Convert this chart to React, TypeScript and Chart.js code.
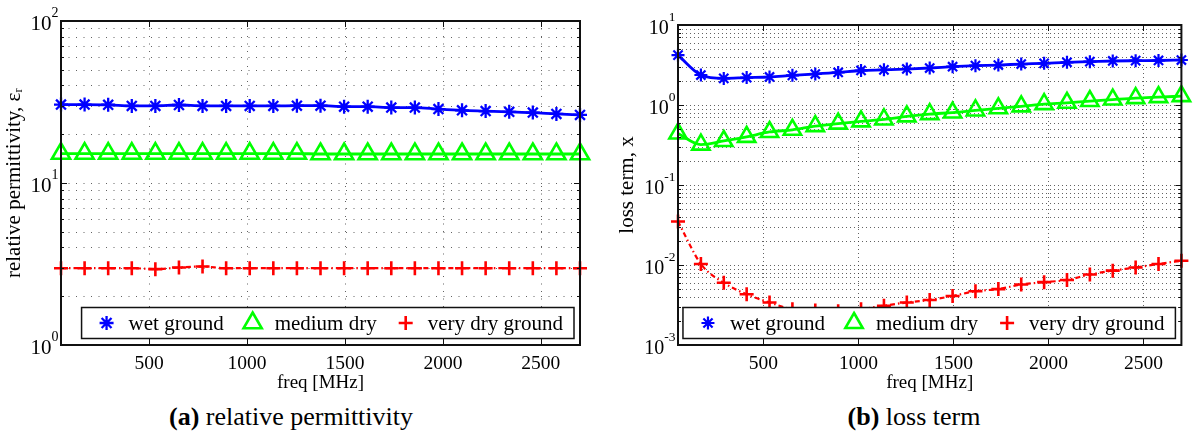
import React, { useEffect, useRef } from "react";
import { Chart, registerables } from "chart.js";

Chart.register(...registerables);

const FONT = '"Liberation Serif", "Times New Roman", serif';
const TEXT = "#000000";
const GRID_COLOR = "rgba(60,60,60,0.8)";
const BLUE = "#0000ff";
const GREEN = "#00ff00";
const RED = "#ff0000";

// ---- data ----
const freqMHz = [
  50, 170.5, 290.9, 411.4, 531.8, 652.3, 772.7, 893.2, 1013.6, 1134.1, 1254.5, 1375,
  1495.5, 1615.9, 1736.4, 1856.8, 1977.3, 2097.7, 2218.2, 2338.6, 2459.1, 2579.5, 2700,
];
const xTickValues = [500, 1000, 1500, 2000, 2500];

const permWet = [
  30.5, 30.5, 30.4, 29.9, 29.9, 30.3, 29.9, 29.9, 29.9, 29.9, 30.0, 30.0,
  29.6, 29.6, 29.2, 29.2, 28.6, 28.1, 27.8, 27.5, 27.2, 26.7, 26.3,
];
const permMedium = [
  15.2, 15.2, 15.2, 15.2, 15.2, 15.2, 15.2, 15.2, 15.2, 15.2, 15.2, 15.1,
  15.1, 15.1, 15.1, 15.1, 15.1, 15.1, 15.1, 15.1, 15.1, 15.1, 15.1,
];
const permVeryDry = [
  2.98, 2.98, 2.98, 2.98, 2.94, 3.01, 3.05, 2.98, 2.98, 2.98, 2.98, 2.98,
  2.98, 2.98, 2.98, 2.98, 2.98, 2.98, 2.98, 2.98, 2.98, 2.98, 2.98,
];

const lossWet = [
  4.2, 2.37, 2.15, 2.2, 2.24, 2.35, 2.44, 2.55, 2.7, 2.75, 2.82, 2.9,
  3.01, 3.1, 3.16, 3.25, 3.32, 3.42, 3.48, 3.55, 3.58, 3.6, 3.65,
];
const lossMedium = [
  0.44, 0.32, 0.355, 0.4, 0.46, 0.49, 0.545, 0.585, 0.625, 0.66, 0.72, 0.77,
  0.805, 0.855, 0.91, 0.96, 1.025, 1.065, 1.12, 1.17, 1.22, 1.255, 1.29,
];
const lossVeryDry = [
  0.035, 0.0103, 0.006, 0.0043, 0.0034, 0.0028, 0.0027, 0.00265, 0.0028, 0.0031, 0.0034, 0.00365,
  0.0041, 0.0047, 0.005, 0.0057, 0.0061, 0.0065, 0.0076, 0.0085, 0.0093, 0.0103, 0.0113,
];

const seriesLabels = ["wet ground", "medium dry", "very dry ground"];
const permDecades = [0, 1, 2];
const lossDecades = [-3, -2, -1, 0, 1];

type MarkerStyle = "star" | "triangle" | "cross";

type PanelSpec = {
  key: string;
  yTitle: string;
  decades: number[];
  series: number[][];
  canvasLeft: number;
  axisWidth: number;
  top: number;
  rightPad: number;
  yTitlePad: number;
  gridDash: number[];
  labelFont: number;
  expFont: number;
  markerR: number[];
  markerLW: number[];
};

function logTicks(decades: number[]) {
  const out: number[] = [];
  for (let i = 0; i < decades.length - 1; i++) {
    const base = Math.pow(10, decades[i]);
    for (let m = 1; m <= 9; m++) out.push(parseFloat((m * base).toPrecision(6)));
  }
  out.push(Math.pow(10, decades[decades.length - 1]));
  return out;
}

function drawMarker(
  ctx: CanvasRenderingContext2D,
  style: MarkerStyle,
  x: number,
  y: number,
  r: number,
  color: string,
  lw: number
) {
  ctx.save();
  ctx.strokeStyle = color;
  ctx.lineWidth = lw;
  ctx.setLineDash([]);
  ctx.beginPath();
  if (style === "star") {
    const d = r * Math.SQRT1_2;
    ctx.moveTo(x - r, y);
    ctx.lineTo(x + r, y);
    ctx.moveTo(x, y - r);
    ctx.lineTo(x, y + r);
    ctx.moveTo(x - d, y - d);
    ctx.lineTo(x + d, y + d);
    ctx.moveTo(x + d, y - d);
    ctx.lineTo(x - d, y + d);
  } else if (style === "triangle") {
    ctx.moveTo(x, y - r);
    ctx.lineTo(x + r * 0.866, y + r / 2);
    ctx.lineTo(x - r * 0.866, y + r / 2);
    ctx.closePath();
  } else {
    ctx.moveTo(x - r, y);
    ctx.lineTo(x + r, y);
    ctx.moveTo(x, y - r);
    ctx.lineTo(x, y + r);
  }
  ctx.stroke();
  ctx.restore();
}

const styles: MarkerStyle[] = ["star", "triangle", "cross"];
const colors = [BLUE, GREEN, RED];

function makeFramePlugin(p: PanelSpec) {
  return {
    id: "frame_" + p.key,
    beforeDatasetsDraw(chart: any) {
      const { ctx, chartArea: a, scales } = chart;
      const xs = scales.x;
      const ys = scales.y;
      ctx.save();
      ctx.strokeStyle = GRID_COLOR;
      ctx.lineWidth = 1;
      ctx.setLineDash(p.gridDash);
      for (const t of ys.ticks) {
        const py = Math.round(ys.getPixelForValue(t.value)) + 0.5;
        if (py <= a.top + 1 || py >= a.bottom - 1) continue;
        ctx.beginPath();
        ctx.moveTo(a.left, py);
        ctx.lineTo(a.right, py);
        ctx.stroke();
      }
      for (const t of xs.ticks) {
        const px = Math.round(xs.getPixelForValue(t.value)) + 0.5;
        ctx.beginPath();
        ctx.moveTo(px, a.top);
        ctx.lineTo(px, a.bottom);
        ctx.stroke();
      }
      ctx.restore();
    },
    afterDatasetsDraw(chart: any) {
      const { ctx, chartArea: a, scales } = chart;
      const xs = scales.x;
      const ys = scales.y;
      ctx.save();
      ctx.setLineDash([]);
      ctx.strokeStyle = "#111";
      ctx.lineWidth = 1;
      // inner ticks
      ctx.beginPath();
      for (const t of ys.ticks) {
        const py = Math.round(ys.getPixelForValue(t.value)) + 0.5;
        const lg = Math.log10(t.value);
        const major = Math.abs(lg - Math.round(lg)) < 1e-6;
        const len = major ? 6 : 3;
        ctx.moveTo(a.left, py);
        ctx.lineTo(a.left + len, py);
        ctx.moveTo(a.right, py);
        ctx.lineTo(a.right - len, py);
      }
      for (const t of xs.ticks) {
        const px = Math.round(xs.getPixelForValue(t.value)) + 0.5;
        ctx.moveTo(px, a.bottom);
        ctx.lineTo(px, a.bottom - 6);
        ctx.moveTo(px, a.top);
        ctx.lineTo(px, a.top + 6);
      }
      ctx.stroke();
      // box
      ctx.lineWidth = 2;
      ctx.strokeStyle = "#111";
      ctx.strokeRect(a.left, a.top, a.right - a.left, a.bottom - a.top);

      // y tick labels 10^n
      ctx.fillStyle = TEXT;
      ctx.textBaseline = "alphabetic";
      ctx.textAlign = "left";
      for (const e of p.decades) {
        const py = ys.getPixelForValue(Math.pow(10, e));
        const expText = e < 0 ? "-" + String(-e) : String(e);
        ctx.font = `${p.labelFont}px ${FONT}`;
        const w1 = ctx.measureText("10").width;
        ctx.font = `${p.expFont}px ${FONT}`;
        const w2 = ctx.measureText(expText).width;
        const x0 = a.left - 2.5 - w1 - w2;
        ctx.font = `${p.labelFont}px ${FONT}`;
        ctx.fillText("10", x0, py + 8.5);
        ctx.font = `${p.expFont}px ${FONT}`;
        ctx.fillText(expText, x0 + w1, py - 4.5);
      }

      // legend
      ctx.font = `21px ${FONT}`;
      const widths = seriesLabels.map((l) => ctx.measureText(l).width);
      const padL = 25;
      const mToT = 22;
      const gap = 29;
      const padR = 11;
      let total = padL + padR;
      widths.forEach((w, i) => {
        total += mToT + w + (i < widths.length - 1 ? gap : 0);
      });
      const h = 31;
      const right = a.right - 6;
      const bottom = a.bottom - 6.5;
      const left = right - total;
      const top = bottom - h;
      ctx.fillStyle = "#ffffff";
      ctx.fillRect(left, top, total, h);
      ctx.lineWidth = 1.5;
      ctx.strokeStyle = "#111";
      ctx.strokeRect(left, top, total, h);
      const cy = top + h / 2;
      let cx = left + padL;
      seriesLabels.forEach((l, i) => {
        drawMarker(ctx, styles[i], cx, cy, p.markerR[i], colors[i], p.markerLW[i]);
        ctx.fillStyle = TEXT;
        ctx.textBaseline = "middle";
        ctx.textAlign = "left";
        ctx.font = `21px ${FONT}`;
        ctx.fillText(l, cx + mToT, cy + 1);
        cx += mToT + widths[i] + gap;
      });
      ctx.restore();
    },
  };
}

function makeConfig(p: PanelSpec): any {
  const yTicks = logTicks(p.decades);
  const datasets = p.series.map((vals, i) => ({
    label: seriesLabels[i],
    data: vals.map((v, k) => ({ x: freqMHz[k], y: v })),
    borderColor: colors[i],
    backgroundColor: "rgba(0,0,0,0)",
    borderWidth: i === 2 ? 2.2 : 2.8,
    borderDash: i === 2 ? [5, 3, 1.5, 3] : [],
    pointStyle: styles[i],
    pointRadius: p.markerR[i],
    pointBorderWidth: p.markerLW[i],
    pointBorderColor: colors[i],
    pointBackgroundColor: "rgba(0,0,0,0)",
    cubicInterpolationMode: "monotone",
    fill: false,
    clip: false,
  }));
  return {
    type: "line",
    data: { datasets },
    options: {
      responsive: false,
      maintainAspectRatio: false,
      animation: false,
      devicePixelRatio: 1,
      events: [],
      layout: { padding: { left: 0, top: p.top, right: p.rightPad, bottom: 0 } },
      plugins: { legend: { display: false }, tooltip: { enabled: false } },
      scales: {
        x: {
          type: "linear",
          bounds: "data",
          min: freqMHz[0],
          max: freqMHz[freqMHz.length - 1],
          afterBuildTicks: (s: any) => {
            s.ticks = xTickValues.map((v) => ({ value: v }));
          },
          afterFit: (s: any) => {
            s.height = 55;
          },
          grid: { display: false, drawTicks: false },
          border: { display: false },
          ticks: {
            autoSkip: false,
            maxRotation: 0,
            padding: 7,
            color: TEXT,
            font: { family: FONT, size: 19.5 },
            callback: (v: any) => String(v),
          },
          title: {
            display: true,
            text: "freq [MHz]",
            color: TEXT,
            font: { family: FONT, size: 19 },
            padding: { top: 0, bottom: 5.6 },
          },
        },
        y: {
          type: "logarithmic",
          min: Math.pow(10, p.decades[0]),
          max: Math.pow(10, p.decades[p.decades.length - 1]),
          afterBuildTicks: (s: any) => {
            s.ticks = yTicks.map((v) => ({ value: v }));
          },
          afterFit: (s: any) => {
            s.width = p.axisWidth;
          },
          grid: { display: false, drawTicks: false },
          border: { display: false },
          ticks: { display: false },
          title: {
            display: true,
            text: p.yTitle,
            color: TEXT,
            font: { family: FONT, size: 21 },
            padding: { top: p.yTitlePad, bottom: 0 },
          },
        },
      },
    },
    plugins: [makeFramePlugin(p)],
  };
}

const permPanel: PanelSpec = {
  key: "perm",
  yTitle: "relative permittivity, εᵣ",
  decades: permDecades,
  series: [permWet, permMedium, permVeryDry],
  canvasLeft: 0,
  axisWidth: 61,
  top: 21,
  rightPad: 17,
  yTitlePad: 2,
  gridDash: [1, 6.5],
  labelFont: 21,
  expFont: 14,
  markerR: [7, 10.5, 7],
  markerLW: [2.3, 2.6, 2.6],
};

const lossPanel: PanelSpec = {
  key: "loss",
  yTitle: "loss term, x",
  decades: lossDecades,
  series: [lossWet, lossMedium, lossVeryDry],
  canvasLeft: 597,
  axisWidth: 81,
  top: 25,
  rightPad: 1,
  yTitlePad: 18,
  gridDash: [1, 3],
  labelFont: 20,
  expFont: 13.5,
  markerR: [6.5, 10, 7],
  markerLW: [2.2, 2.6, 2.6],
};

function Panel({ spec }: { spec: PanelSpec }) {
  const ref = useRef<HTMLCanvasElement | null>(null);
  useEffect(() => {
    if (!ref.current) return;
    const chart = new Chart(ref.current, makeConfig(spec));
    return () => chart.destroy();
  }, [spec]);
  return (
    <canvas
      ref={ref}
      width={597}
      height={400}
      style={{ position: "absolute", left: spec.canvasLeft, top: 0, width: 597, height: 400, display: "block" }}
    />
  );
}

const captionStyle: React.CSSProperties = {
  position: "absolute",
  top: 404,
  transform: "translateX(-50%)",
  whiteSpace: "nowrap",
  fontFamily: FONT,
  fontSize: 26,
  lineHeight: "26px",
  color: TEXT,
};

export default function App() {
  return (
    <div
      style={{
        position: "absolute",
        left: 0,
        top: 0,
        width: 1194,
        height: 435,
        background: "#ffffff",
        overflow: "hidden",
      }}
    >
      <Panel spec={permPanel} />
      <Panel spec={lossPanel} />
      <div style={{ ...captionStyle, left: 291 }}>
        <b>(a)</b> relative permittivity
      </div>
      <div style={{ ...captionStyle, left: 914 }}>
        <b>(b)</b> loss term
      </div>
    </div>
  );
}
